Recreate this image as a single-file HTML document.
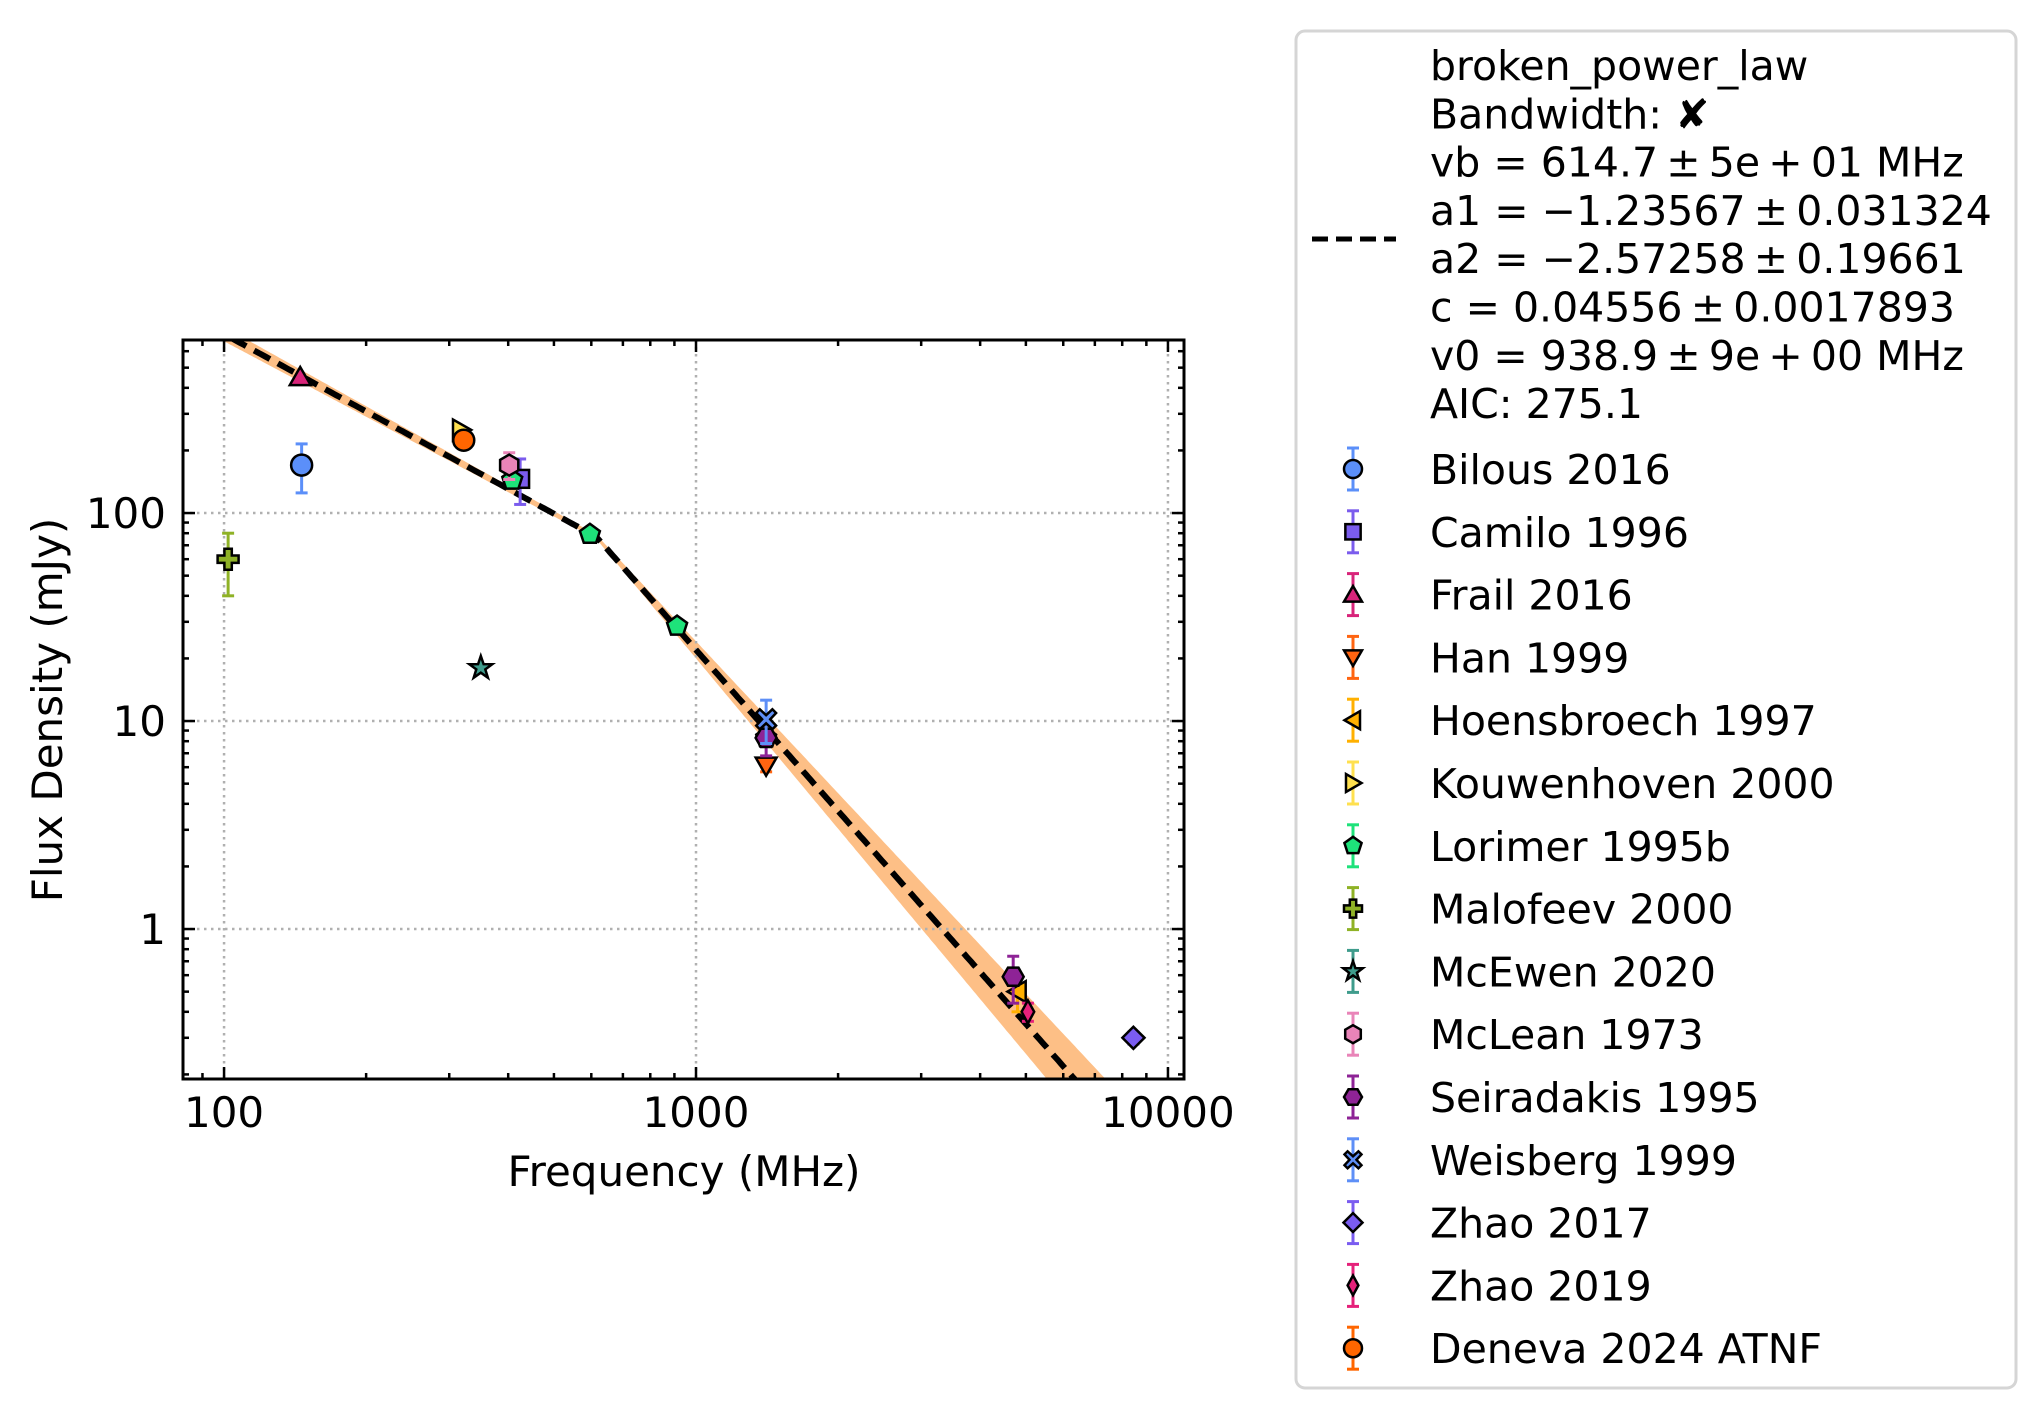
<!DOCTYPE html>
<html><head><meta charset="utf-8"><style>
html,body{margin:0;padding:0;background:#fff;}
svg{display:block;font-family:"DejaVu Sans","Liberation Sans",sans-serif;}
</style></head><body>
<svg id="chart" width="2042" height="1419" viewBox="0 0 2042 1419" xmlns="http://www.w3.org/2000/svg">
<rect width="2042" height="1419" fill="#fff"/>
<g id="band"></g>
<g id="grid"></g>
<g id="fit"></g>
<g id="points"></g>
<g id="axes"></g>
<text x="684" y="1186" font-size="42" text-anchor="middle">Frequency (MHz)</text>
<text transform="translate(62,710) rotate(-90)" font-size="42" text-anchor="middle">Flux Density (mJy)</text>
<g id="legend"></g>
</svg>
<script>
const seriesNames=["Bilous 2016","Camilo 1996","Frail 2016","Han 1999","Hoensbroech 1997","Kouwenhoven 2000","Lorimer 1995b","Malofeev 2000","McEwen 2020","McLean 1973","Seiradakis 1995","Weisberg 1999","Zhao 2017","Zhao 2019","Deneva 2024 ATNF"];
const seriesColors=["#5b8ff9","#7b5ced","#d8247a","#ff6411","#ffb000","#ffe04f","#1ee27a","#8fb226","#3f9c8c","#e984b8","#8e2396","#5e8ff7","#7a5cf0","#e5217a","#ff6600"];
const seriesMarkers=["o","s","^","v","<",">","p","P","*","h","H","X","D","d","o"];
const freqs=[[146],[424],[145],[1408],[4800],[318],[408,596,912,1408],[102],[350],[402],[1408,4700],[1408],[8450],[5050],[322]];
const fluxes=[[170],[146],[451],[6.1],[0.5],[251],[144,79,28.6,8.3],[60],[18],[170],[8.3,0.59],[10.2],[0.30],[0.40],[224]];
const fluxErrs=[[45],[36],[0],[0.4],[0.1],[0],[0,0,0,0],[20],[0],[25],[1.5,0.15],[2.4],[0.02],[0.04],[0]];
const fitParams={vb:614.7,a1:-1.23567,a2:-2.57258,c:0.04556,v0:938.9,sa1:0.031324,sa2:0.19661};
const xTickVals=[100,1000,10000];
const xTickLabels=["100","1000","10000"];
const yTickVals=[1,10,100];
const yTickLabels=["1","10","100"];
const legendFitLines=["broken_power_law","Bandwidth: \u2718","vb = 614.7\u2009\u00b1\u20095e\u2009+\u200901 MHz","a1 = \u22121.23567\u2009\u00b1\u20090.031324","a2 = \u22122.57258\u2009\u00b1\u20090.19661","c = 0.04556\u2009\u00b1\u20090.0017893","v0 = 938.9\u2009\u00b1\u20099e\u2009+\u200900 MHz","AIC: 275.1"];

const NS="http://www.w3.org/2000/svg";
const X0=183,X1=1184,Y0=340,Y1=1079;
const XL0=1.913,XL1=4.034,YL0=-0.721,YL1=2.832;
function sx(v){return X0+(Math.log10(v)-XL0)/(XL1-XL0)*(X1-X0);}
function sy(v){return Y1-(Math.log10(v)-YL0)/(YL1-YL0)*(Y1-Y0);}
function mk(tag,attrs,parent){const e=document.createElementNS(NS,tag);for(const k in attrs)e.setAttribute(k,attrs[k]);parent.appendChild(e);return e;}

const grid=document.getElementById('grid');
xTickVals.forEach(v=>{const l=mk('line',{x1:sx(v),x2:sx(v),y1:Y0,y2:Y1,stroke:'#b0b0b0','stroke-width':2.5,'stroke-dasharray':'2.5 4.5'},grid);

});
yTickVals.forEach(v=>{const l=mk('line',{x1:X0,x2:X1,y1:sy(v),y2:sy(v),stroke:'#b0b0b0','stroke-width':2.5,'stroke-dasharray':'2.5 4.5'},grid);

});

function model(v){const p=fitParams;const c=p.c*1000;
 if(v<=p.vb)return c*Math.pow(v/p.v0,p.a1);
 return c*Math.pow(v/p.v0,p.a2)*Math.pow(p.vb/p.v0,p.a1-p.a2);}
function sig(v){const p=fitParams;const L=Math.abs(Math.log10(v/p.vb));
 const s=v<=p.vb?p.sa1*L:0.75*p.sa2*L;return 0.01+s;}
const up=[],lo=[],mid=[];
for(let lg=XL0;lg<=XL1+1e-9;lg+=0.005){const v=Math.pow(10,lg);const m=model(v);const s=sig(v);
 mid.push([sx(v),sy(m)]);up.push([sx(v),sy(m*Math.pow(10,s))]);lo.push([sx(v),sy(m/Math.pow(10,s))]);}
const clip=mk('clipPath',{id:'pc'},document.getElementById('chart'));
mk('rect',{x:X0,y:Y0,width:X1-X0,height:Y1-Y0},clip);
const bandPts=up.concat(lo.slice().reverse()).map(p=>p[0].toFixed(1)+','+p[1].toFixed(1)).join(' ');
const band=mk('polygon',{points:bandPts,fill:'#fdbf86','clip-path':'url(#pc)'},document.getElementById('band'));


const fl=mk('polyline',{points:mid.map(p=>p[0].toFixed(1)+','+p[1].toFixed(1)).join(' '),fill:'none',stroke:'#000','stroke-width':6,'stroke-dasharray':'18 9','clip-path':'url(#pc)'},document.getElementById('fit'));



function marker(g,type,x,y,col,r){
 const st={fill:col,stroke:'#000','stroke-width':2.5};
 let pts=null;
 const poly=(n,rot,rr)=>{const a=[];for(let i=0;i<n;i++){const t=rot+i*2*Math.PI/n;a.push([x+rr*Math.sin(t),y-rr*Math.cos(t)]);}return a;};
 if(type==='o'){return mk('circle',Object.assign({cx:x,cy:y,r:r},st),g);}
 if(type==='s'){return mk('rect',Object.assign({x:x-r*0.85,y:y-r*0.85,width:r*1.7,height:r*1.7},st),g);}
 if(type==='^')pts=poly(3,0,r*1.15).map(p=>[p[0],p[1]+r*0.2]);
 if(type==='v')pts=poly(3,Math.PI,r*1.15).map(p=>[p[0],p[1]-r*0.2]);
 if(type==='<')pts=poly(3,-Math.PI/2,r*1.15).map(p=>[p[0]+r*0.2,p[1]]);
 if(type==='>')pts=poly(3,Math.PI/2,r*1.15).map(p=>[p[0]-r*0.2,p[1]]);
 if(type==='p')pts=poly(5,0,r);
 if(type==='h')pts=poly(6,0,r);
 if(type==='H')pts=poly(6,Math.PI/6,r);
 if(type==='D')pts=poly(4,0,r*1.05);
 if(type==='d')pts=[[x,y-r*1.1],[x+r*0.6,y],[x,y+r*1.1],[x-r*0.6,y]];
 if(type==='*'){pts=[];for(let i=0;i<10;i++){const t=i*Math.PI/5;const rr=i%2?r*0.45:r*1.15;pts.push([x+rr*Math.sin(t),y-rr*Math.cos(t)]);}}
 if(type==='P'){const a=r*0.35,b=r;pts=[[-a,-b],[a,-b],[a,-a],[b,-a],[b,a],[a,a],[a,b],[-a,b],[-a,a],[-b,a],[-b,-a],[-a,-a]].map(p=>[x+p[0],y+p[1]]);}
 if(type==='X'){const a=r*0.35,b=r*0.95,q=r*0.35;pts=[[0,-q*1.1],[b-a,-b],[b,-b+a],[q*1.1,0],[b,b-a],[b-a,b],[0,q*1.1],[-b+a,b],[-b,b-a],[-q*1.1,0],[-b,-b+a],[-b+a,-b]].map(p=>[x+p[0],y+p[1]]);}
 return mk('polygon',Object.assign({points:pts.map(p=>p[0].toFixed(1)+','+p[1].toFixed(1)).join(' ')},st),g);
}
function errbar(g,x,ya,yb,col){
 mk('line',{x1:x,x2:x,y1:ya,y2:yb,stroke:col,'stroke-width':3},g);
 mk('line',{x1:x-6,x2:x+6,y1:ya,y2:ya,stroke:col,'stroke-width':3},g);
 mk('line',{x1:x-6,x2:x+6,y1:yb,y2:yb,stroke:col,'stroke-width':3},g);
}
const pg=document.getElementById('points');
seriesNames.forEach((n,i)=>{
 const g=mk('g',{},pg);
 
 
 freqs[i].forEach((f,j)=>{const v=fluxes[i][j],e=fluxErrs[i][j];
  if(e>0)errbar(g,sx(f),sy(v+e),sy(Math.max(v-e,1e-3)),seriesColors[i]);
  const m=marker(g,seriesMarkers[i],sx(f),sy(v),seriesColors[i],10.5);
  
  
 });
});

const ax=document.getElementById('axes');
mk('rect',{x:X0,y:Y0,width:X1-X0,height:Y1-Y0,fill:'none',stroke:'#000','stroke-width':3},ax);
for(let d=1;d<=4;d++){for(let k=1;k<10;k++){const v=k*Math.pow(10,d);const lg=Math.log10(v);if(lg<XL0||lg>XL1)continue;
 const len=k===1?12:6;const x=sx(v);
 mk('line',{x1:x,x2:x,y1:Y1,y2:Y1-len,stroke:'#000','stroke-width':2.5},ax);
 mk('line',{x1:x,x2:x,y1:Y0,y2:Y0+len,stroke:'#000','stroke-width':2.5},ax);}}
for(let d=-1;d<=2;d++){for(let k=1;k<10;k++){const v=k*Math.pow(10,d);const lg=Math.log10(v);if(lg<YL0||lg>YL1)continue;
 const len=k===1?12:6;const y=sy(v);
 mk('line',{x1:X0,x2:X0+len,y1:y,y2:y,stroke:'#000','stroke-width':2.5},ax);
 mk('line',{x1:X1,x2:X1-len,y1:y,y2:y,stroke:'#000','stroke-width':2.5},ax);}}
xTickVals.forEach((v,i)=>{const t=mk('text',{x:sx(v),y:1127,'font-size':42,'text-anchor':'middle'},ax);t.textContent=xTickLabels[i];
 
 });
yTickVals.forEach((v,i)=>{const t=mk('text',{x:166,y:sy(v)+15,'font-size':42,'text-anchor':'end'},ax);t.textContent=yTickLabels[i];
 
 });

const lg=document.getElementById('legend');
mk('rect',{x:1296,y:31,width:720,height:1357,rx:9,fill:'#fff',stroke:'#d5d5d5','stroke-width':3},lg);
mk('line',{x1:1312,x2:1396,y1:239,y2:239,stroke:'#000','stroke-width':5,'stroke-dasharray':'16 8'},lg);
legendFitLines.forEach((s,i)=>{const t=mk('text',{x:1430,y:80+i*48.3,'font-size':41},lg);t.textContent=s;
 
 });
seriesNames.forEach((n,i)=>{const y=469+i*62.8;
 const g=mk('g',{},lg);
 
 
 errbar(g,1353,y-21,y+21,seriesColors[i]);
 marker(g,seriesMarkers[i],1353,y,seriesColors[i],9);
 const t=mk('text',{x:1430,y:y+15,'font-size':41},g);t.textContent=n;});
</script>
</body></html>
